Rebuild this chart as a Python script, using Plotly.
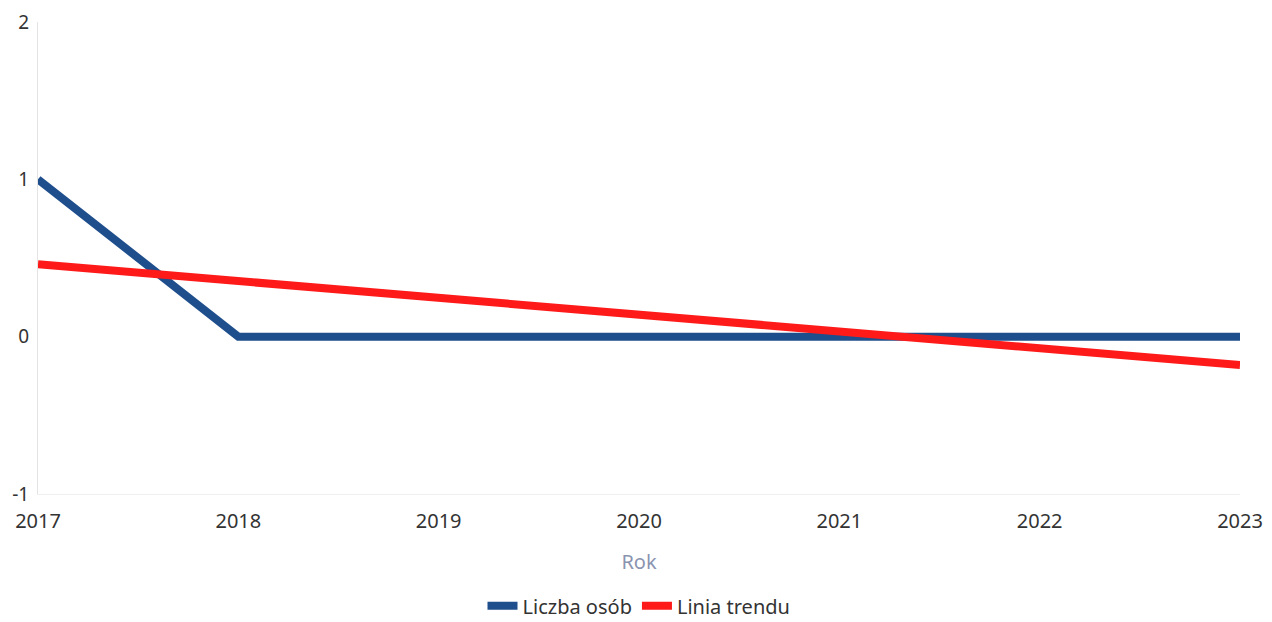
import plotly.graph_objects as go

years = [2017, 2018, 2019, 2020, 2021, 2022, 2023]
liczba_osob = [1, 0, 0, 0, 0, 0, 0]
trend_years = [2017, 2023]
trend_values = [0.46, -0.18]
y_ticks = [-1, 0, 1, 2]
y_tick_text = ["-1", "0", "1", "2"]

fig = go.Figure()
fig.add_trace(go.Scatter(x=years, y=liczba_osob, mode="lines", name="Liczba osób",
                         line=dict(color="#1f4e8c", width=8)))
fig.add_trace(go.Scatter(x=trend_years, y=trend_values, mode="lines", name="Linia trendu",
                         line=dict(color="#ff1a1a", width=8)))

fig.update_layout(
    width=1264, height=614,
    margin=dict(l=30, r=32, t=14, b=128, autoexpand=False),
    paper_bgcolor="white", plot_bgcolor="white",
    font=dict(family="Noto Sans", color="#333333"),
    showlegend=True,
    legend=dict(orientation="h", x=0.5, xanchor="center", y=-0.237, yanchor="middle",
                font=dict(size=20, color="#333333"), itemwidth=30),
    xaxis=dict(range=[2017, 2023], tickvals=years, ticktext=[str(y) for y in years],
               tickfont=dict(size=20, color="#333333"), showgrid=False, zeroline=False,
               showline=True, linecolor="#f0f0f0", linewidth=1, automargin=False,
               ticks="outside", ticklen=9, tickcolor="rgba(0,0,0,0)",
               title=dict(text="Rok", font=dict(size=20, color="#8a94b0"), standoff=21)),
    yaxis=dict(range=[-1, 2], tickvals=y_ticks, ticktext=y_tick_text,
               tickfont=dict(size=19, color="#333333"), automargin=False,
               showgrid=False, zeroline=False, showline=True, linecolor="#e4e4e4",
               linewidth=1, ticks="outside", ticklen=4, tickcolor="rgba(0,0,0,0)"),
)

fig.write_html("out.html")
